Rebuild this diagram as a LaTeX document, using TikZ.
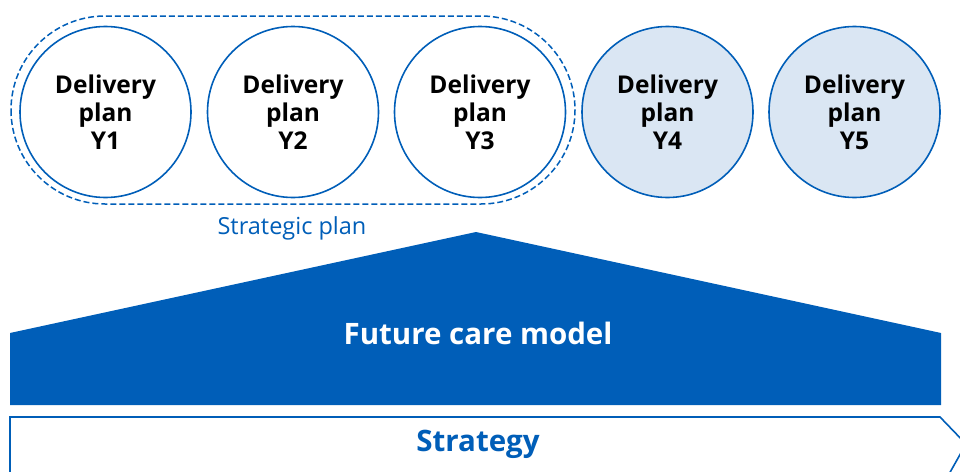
\documentclass[tikz,border=0pt]{standalone}
\usepackage{fontspec}
\setmainfont{Open Sans}
\definecolor{nhsblue}{HTML}{005EB8}
\definecolor{lightfill}{HTML}{DAE6F3}
\begin{document}
\begin{tikzpicture}[x=1pt,y=-1pt,
  plan/.style={circle,draw=nhsblue,line width=1.6pt,minimum size=171pt,inner sep=0pt,align=center,
    font=\fontsize{24.5}{28}\selectfont\bfseries},
  later/.style={plan,fill=lightfill}]
\useasboundingbox (0,0) rectangle (960,471);
\begin{scope}
\clip (0,0) rectangle (960,471);
% dashed strategic-plan outline
\draw[nhsblue,dash pattern=on 6pt off 3pt,line width=1.5pt,rounded corners=94pt] (11,16) rectangle (575,204);
\node[plan] (y1) at (105.5,112) {Delivery\\plan\\Y1};
\node[plan] (y2) at (293,112) {Delivery\\plan\\Y2};
\node[plan] (y3) at (480,112) {Delivery\\plan\\Y3};
\node[later] (y4) at (667.5,112) {Delivery\\plan\\Y4};
\node[later] (y5) at (854.5,112) {Delivery\\plan\\Y5};
\node[text=nhsblue,font=\fontsize{23.5}{27}\selectfont] (sp) at (292,228) {Strategic plan};
% house
\fill[nhsblue] (10,405) -- (10,333) -- (476,232) -- (941,333) -- (941,405) -- cycle;
\node[text=white,font=\fontsize{29.5}{34}\selectfont\bfseries] (fcm) at (478,333) {Future care model};
% strategy chevron
\draw[nhsblue,fill=white,line width=1.6pt] (10,490) -- (10,417) -- (940,417) -- (966,444) -- (940,490);
\node[text=nhsblue,font=\fontsize{29.5}{34}\selectfont\bfseries] (str) at (478,444) {Strategy};
\end{scope}
\end{tikzpicture}
\end{document}
